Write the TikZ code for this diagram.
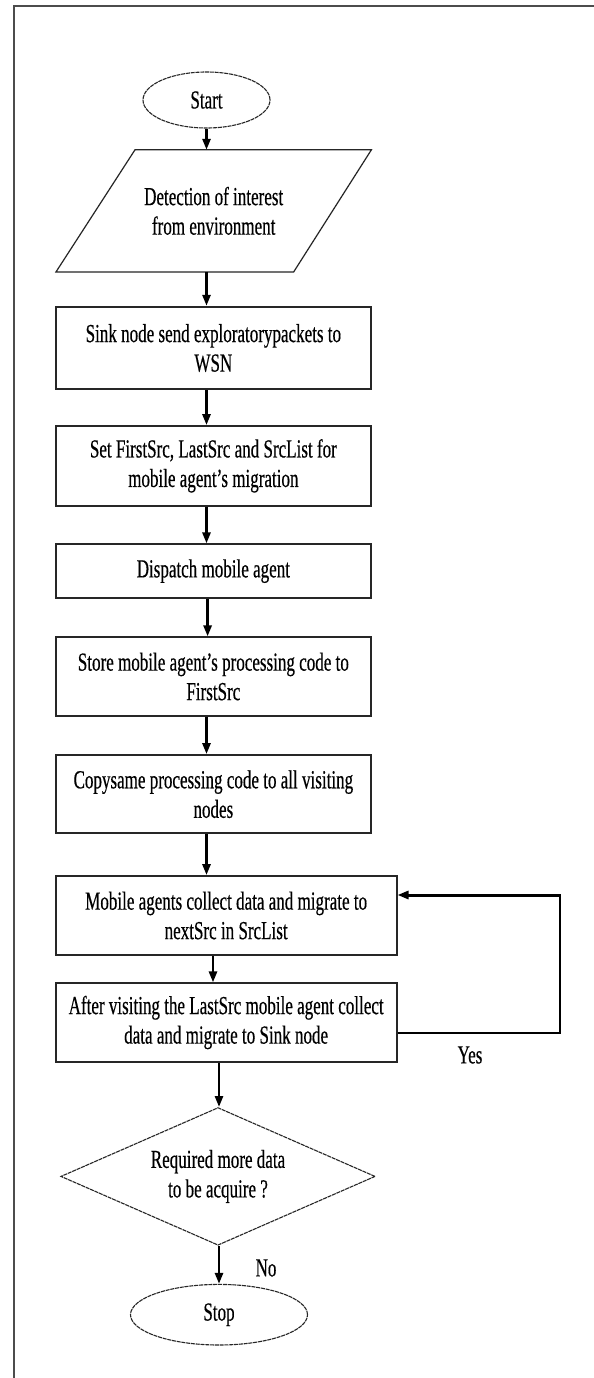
\documentclass[tikz,border=0pt]{standalone}
\usepackage{fontspec}
\setmainfont{Liberation Serif}[FakeStretch=0.655,FakeBold=0.4]
\usetikzlibrary{shapes.geometric,arrows.meta,calc}
\newcommand{\fsz}{\fontsize{26}{29.5}\selectfont}
\tikzset{
  frame/.style={draw=black!70, line width=2pt},
  box/.style={draw=black!85, line width=1.8pt, rectangle, inner sep=0pt, align=center, font=\fsz},
  term/.style={draw=black!85, line width=1.1pt, dash pattern=on 4pt off 0.8pt, ellipse, inner sep=0pt, font=\fsz},
  decide/.style={draw=black!85, line width=1.1pt, dash pattern=on 4pt off 0.8pt, diamond, aspect=2.28, inner sep=0pt, align=center, font=\fsz},
  para/.style={draw=black!85, line width=1.2pt},
  arr/.style={draw=black, line width=2.6pt, -{Triangle[length=11pt,width=8pt]}},
  lbl/.style={font=\fsz, inner sep=0pt},
}
\begin{document}
\begin{tikzpicture}[x=1pt,y=-1pt]
\useasboundingbox (0,0) rectangle (594,1378);
\fill[white] (0,0) rectangle (594,1378);
\draw[frame] (594,6) -- (14,6) -- (14,1378);

\node[term, minimum width=127pt, minimum height=56pt] (start) at (206.5,100) {Start};
\node[align=center, font=\fsz, inner sep=0pt, minimum width=315pt, minimum height=121.7pt] (detect) at (213.7,210.85) {Detection of interest\\from environment};
\draw[para] ($(detect.north west)+(79,0)$) -- (detect.north east) -- ($(detect.south east)+(-77.7,0)$) -- (detect.south west) -- cycle;

\node[box, minimum width=315.3pt, minimum height=82.6pt] (b1) at (213.35,348) {Sink node send exploratorypackets to\\WSN};
\node[box, minimum width=315.3pt, minimum height=79.7pt] (b2) at (213.35,465.85) {Set FirstSrc, LastSrc and SrcList for\\mobile agent's migration};
\node[box, minimum width=315.3pt, minimum height=53.7pt] (b3) at (213.35,571.15) {Dispatch mobile agent};
\node[box, minimum width=315.3pt, minimum height=78.4pt] (b4) at (213.35,676.5) {Store mobile agent's processing code to\\FirstSrc};
\node[box, minimum width=315.3pt, minimum height=78.3pt] (b5) at (213.35,794.15) {Copysame processing code to all visiting\\nodes};
\node[box, minimum width=340.9pt, minimum height=79pt] (b6) at (226.15,915.5) {Mobile agents collect data and migrate to\\nextSrc in SrcList};
\node[box, minimum width=340.9pt, minimum height=78.4pt] (b7) at (226.15,1022.5) {After visiting the LastSrc mobile agent collect\\data and migrate to Sink node};
\node[decide, minimum width=314.4pt, minimum height=137.7pt] (dec) at (218,1176.4) {Required more data\\to be acquire ?};
\node[term, minimum width=177pt, minimum height=60.6pt] (stop) at (219,1314.7) {Stop};

\node[lbl] (yes) at (470,1055) {Yes};
\node[lbl] (no) at (266,1268) {No};

\coordinate (xa) at (206.5,0);
\coordinate (xb) at (207.6,0);
\coordinate (xc) at (213,0);
\coordinate (xd) at (219,0);
\coordinate (lb) at (560,1032.7);
\coordinate (lt) at (560,895);

\draw[arr] (start.south) -- (start.south |- detect.north);
\draw[arr] (detect.south -| xa) -- (b1.north -| xa);
\draw[arr] (b1.south -| xa) -- (b2.north -| xa);
\draw[arr] (b2.south -| xa) -- (b3.north -| xa);
\draw[arr] (b3.south -| xb) -- (b4.north -| xb);
\draw[arr] (b4.south -| xa) -- (b5.north -| xa);
\draw[arr] (b5.south -| xa) -- (b6.north -| xa);
\draw[arr] (b6.south -| xc) -- (b7.north -| xc);
\draw[arr] (b7.south -| xd) -- (dec.north -| xd);
\draw[arr] (dec.south -| xd) -- (stop.north -| xd);
\draw[draw=black, line width=1.7pt] (b7.east |- lb) -- (lb) -- ($(lt)+(0,-1.5)$);
\draw[arr, line width=3pt] (lt) -- (lt -| b6.east);
\end{tikzpicture}
\end{document}
